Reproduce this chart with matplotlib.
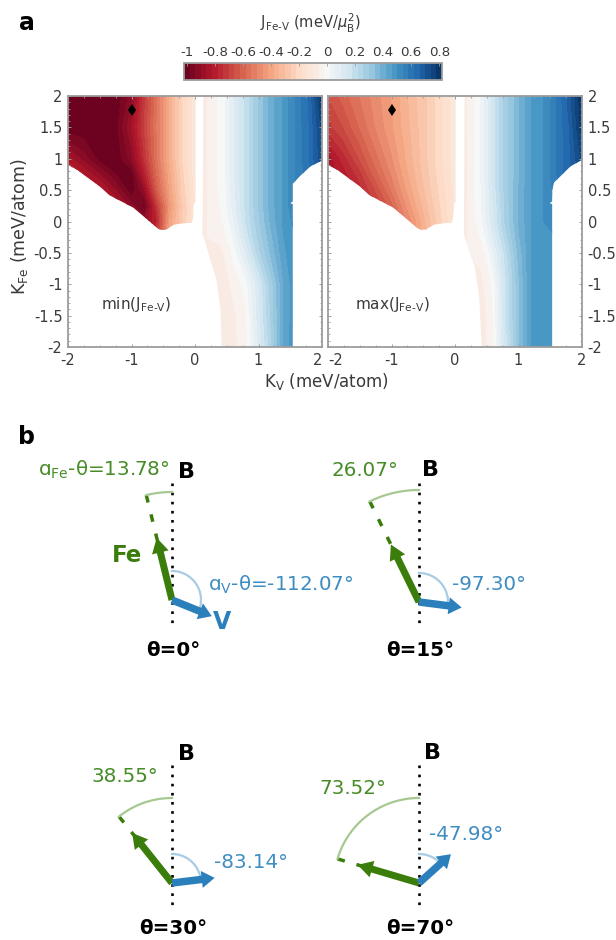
#!/usr/bin/env python3
import numpy as np
import matplotlib
matplotlib.use('Agg')
import matplotlib.pyplot as plt
from matplotlib.colors import TwoSlopeNorm
from matplotlib.path import Path
from matplotlib.patches import FancyArrow

plt.rcParams['font.family'] = 'DejaVu Sans'
plt.rcParams['axes.unicode_minus'] = False
plt.rcParams['mathtext.default'] = 'regular'

W, H = 616, 940

# values
kv = [-2, -1.75, -1.5, -1.25, -1, -.8, -.6, -.4, -.2, 0, .2, .4, .5, .6, .8, 1, 1.2, 1.4, 1.6, 1.8, 2]
kfe = [2, 1.5, 1, .75, .5, .25, 0, -.25, -.5, -1, -1.5, -2]

j_min = [
    [-1.02, -1.02, -1.02, -1.02, -.92, -.72, -.55, -.38, -.22, -.12, -.06, -.01, .03, .09, .19, .3, .4, .47, .55, .63, .8],
    [-1.02, -1.02, -1.02, -1.0, -.86, -.7, -.54, -.38, -.22, -.12, -.06, -.01, .03, .09, .19, .3, .4, .47, .55, .62, .75],
    [-.84, -.92, -1.0, -1.02, -.92, -.74, -.55, -.38, -.22, -.12, -.06, -.01, .03, .09, .19, .3, .4, .47, .55, .62, .73],
    [-.75, -.82, -.9, -.98, -1.02, -.8, -.58, -.4, -.24, -.12, -.06, -.01, .03, .09, .19, .3, .4, .47, .55, .6, .7],
    [-.7, -.75, -.8, -.9, -1.02, -.9, -.62, -.42, -.25, -.13, -.06, -.01, .02, .08, .19, .3, .4, .47, .55, .6, .7],
    [-.65, -.7, -.75, -.82, -.92, -1.0, -.72, -.45, -.27, -.14, -.06, -.02, .02, .07, .19, .3, .4, .47, .55, .6, .7],
    [-.6, -.65, -.7, -.75, -.82, -.9, -.78, -.42, -.26, -.15, -.06, -.03, 0, .05, .18, .29, .39, .47, .52, .55, .6],
    [-.6, -.65, -.7, -.75, -.8, -.85, -.7, -.4, -.25, -.15, -.06, -.05, -.02, .02, .15, .27, .37, .46, .5, .5, .5],
    [-.6, -.65, -.7, -.75, -.8, -.85, -.7, -.4, -.25, -.15, -.06, -.07, -.05, -.01, .1, .24, .35, .45, .5, .5, .5],
    [-.6, -.65, -.7, -.75, -.8, -.85, -.7, -.4, -.25, -.15, -.06, -.08, -.07, -.05, 0, .13, .28, .42, .5, .5, .5],
    [-.6, -.65, -.7, -.75, -.8, -.85, -.7, -.4, -.25, -.15, -.06, -.08, -.08, -.07, -.03, .12, .27, .42, .5, .5, .5],
    [-.6, -.65, -.7, -.75, -.8, -.85, -.7, -.4, -.25, -.15, -.06, -.08, -.08, -.07, -.04, .1, .25, .43, .5, .5, .5],
]
j_max = [
    [-.66, -.6, -.54, -.48, -.42, -.36, -.3, -.25, -.18, -.12, -.06, .02, .08, .16, .28, .37, .46, .5, .58, .68, .85],
    [-.72, -.66, -.58, -.5, -.43, -.37, -.31, -.25, -.18, -.12, -.06, .02, .08, .16, .28, .37, .46, .5, .58, .66, .8],
    [-.85, -.76, -.66, -.56, -.47, -.39, -.32, -.25, -.18, -.12, -.06, .02, .08, .16, .28, .37, .46, .5, .58, .65, .75],
    [-.85, -.8, -.72, -.6, -.5, -.41, -.33, -.26, -.19, -.12, -.06, .02, .08, .16, .28, .37, .46, .5, .58, .65, .72],
    [-.85, -.82, -.76, -.66, -.54, -.44, -.35, -.27, -.2, -.13, -.06, .01, .07, .15, .28, .38, .46, .5, .56, .62, .7],
    [-.85, -.82, -.78, -.7, -.6, -.48, -.38, -.29, -.21, -.13, -.06, .01, .07, .14, .27, .38, .46, .5, .55, .6, .7],
    [-.85, -.8, -.78, -.72, -.62, -.52, -.42, -.31, -.22, -.14, -.06, 0, .06, .13, .27, .38, .46, .5, .55, .6, .7],
    [-.85, -.8, -.78, -.72, -.62, -.52, -.42, -.31, -.22, -.14, -.06, -.02, .03, .1, .24, .37, .46, .5, .5, .5, .5],
    [-.85, -.8, -.78, -.72, -.62, -.52, -.42, -.31, -.22, -.14, -.06, -.05, -.01, .05, .2, .35, .46, .5, .5, .5, .5],
    [-.85, -.8, -.78, -.72, -.62, -.52, -.42, -.31, -.22, -.14, -.06, -.07, -.05, -.01, .17, .33, .46, .5, .5, .5, .5],
    [-.85, -.8, -.78, -.72, -.62, -.52, -.42, -.31, -.22, -.14, -.06, -.07, -.06, -.02, .17, .33, .46, .5, .5, .5, .5],
    [-.85, -.8, -.78, -.72, -.62, -.52, -.42, -.31, -.22, -.14, -.06, -.07, -.06, -.03, .16, .33, .46, .5, .5, .5, .5],
]

# edges of the coloured regions (K_V, K_Fe)
red_edge = [(-2, 2), (-2, .9), (-1.85, .82), (-1.5, .56), (-1.35, .42), (-.97, .22), (-.75, .03), (-.6, -.1),
            (-.55, -.13), (-.46, -.13), (-.33, -.05), (-.2, -.03), (-.05, -.02), (-.03, .05), (-.02, .29), (.01, .3), (.01, 2)]
blue_edge_min = [(.13, 2), (.12, -.2), (.18, -.4), (.34, -.94), (.4, -1.4), (.42, -2), (1.54, -2), (1.54, .28),
                 (1.5, .29), (1.54, .32), (1.54, .6), (1.65, .72), (1.82, .88), (2, .97), (2, 2)]
blue_edge_max = [(.15, 2), (.14, -.21), (.2, -.4), (.31, -.72), (.38, -1.2), (.42, -2), (1.53, -2), (1.53, .28),
                 (1.49, .29), (1.53, .32), (1.53, .5), (1.56, .62), (1.63, .69), (1.82, .88), (2, .98), (2, 2)]

marker_kv, marker_kfe = -1, 1.78
axis_ticks = [-2, -1.5, -1, -.5, 0, .5, 1, 1.5, 2]
axis_labels = ['-2', '-1.5', '-1', '-0.5', '0', '0.5', '1', '1.5', '2']
x_ticks = [-2, -1, 0, 1, 2]
x_labels = ['-2', '-1', '0', '1', '2']
cbar_ticks = [-1, -.8, -.6, -.4, -.2, 0, .2, .4, .6, .8]
cbar_labels = ['-1', '-0.8', '-0.6', '-0.4', '-0.2', '0', '0.2', '0.4', '0.6', '0.8']

# panel b
thetas = [0, 15, 30, 70]
fe_angles = [13.78, 26.07, 38.55, 73.52]
v_angles = [-112.07, -97.30, -83.14, -47.98]
fe_arc_radius = [108, 112, 85, 85]
origin_x = [172, 419, 172, 419]
origin_y = [600, 602, 883, 883]
line_top = [483, 483, 765, 765]
line_bottom = [627, 627, 910, 910]
theta_label_y = [650, 650, 929, 929]

GREY = '#9c9c9c'
TXT = '#3a3a3a'
GREEN = '#3a7d0a'
BLUE = '#2b80bb'
GREEN_T = '#468c28'
BLUE_T = '#3f8cc1'


def px_axes(x0, y0, x1, y1):
    return fig.add_axes([x0 / W, 1 - y1 / H, (x1 - x0) / W, (y1 - y0) / H])


def region_path(edges):
    verts, codes = [], []
    for e in edges:
        verts += list(e) + [e[0]]
        codes += [Path.MOVETO] + [Path.LINETO] * (len(e) - 1) + [Path.CLOSEPOLY]
    return Path(verts, codes)


fig = plt.figure(figsize=(W / 100, H / 100), dpi=100)
norm = TwoSlopeNorm(vmin=-1.02, vcenter=0, vmax=.82)
levels = np.arange(-1.02, .821, .04)

ax1 = px_axes(68, 96, 322, 347)
ax2 = px_axes(328, 96, 582, 347)
maps = [(ax1, j_min, blue_edge_min), (ax2, j_max, blue_edge_max)]
for ax, table, blue_edge in maps:
    cs = ax.contourf(kv, kfe, np.clip(table, -1.015, .815), levels=levels, cmap='RdBu', norm=norm, antialiased=False)
    cs.set_clip_path(region_path([red_edge, blue_edge]), transform=ax.transData)
    ax.plot(marker_kv, marker_kfe, marker='d', color='k', ms=6.5, mew=0)
    ax.set_xlim(-2, 2)
    ax.set_ylim(-2, 2)
    ax.set_xticks(x_ticks)
    ax.set_xticklabels(x_labels)
    ax.set_yticks(axis_ticks)
    ax.set_yticklabels(axis_labels)
    ax.set_xticks(np.arange(-2, 2.01, .25), minor=True)
    ax.set_yticks(np.arange(-2, 2.01, .1), minor=True)
    ax.tick_params(which='major', direction='in', length=2.5, width=.7, color=GREY, top=True, right=True,
                   labelcolor=TXT, labelsize=10.5, pad=4)
    ax.tick_params(which='minor', direction='in', length=1.2, width=.6, color=GREY, top=True, right=True)
    for s in ax.spines.values():
        s.set_color(GREY)
        s.set_linewidth(1.3)
ax2.tick_params(which='major', labelleft=False, labelright=True)
# the two inner labels are pulled apart so they do not run together
ax1.get_xticklabels()[-1].set_ha('right')
ax2.get_xticklabels()[0].set_ha('left')

cax = px_axes(184, 63, 442, 80)
cb = fig.colorbar(cs, cax=cax, orientation='horizontal', ticks=cbar_ticks)
cax.xaxis.set_ticks_position('top')
cax.set_xticklabels(cbar_labels)
cax.tick_params(direction='in', length=2, width=.6, color=GREY, labelcolor=TXT, labelsize=9.6, pad=3)
cax.minorticks_off()
cb.outline.set_edgecolor(GREY)
cb.outline.set_linewidth(1.3)

# everything else is placed in pixels on one overlay
ov = fig.add_axes([0, 0, 1, 1])
ov.set_xlim(0, W)
ov.set_ylim(H, 0)
ov.axis('off')
ov.patch.set_alpha(0)


def label(x, y, s, size=14.3, color='k', ha='center', weight='normal', rotation=0):
    ov.text(x, y, s, fontsize=size, color=color, ha=ha, va='center', fontweight=weight, rotation=rotation)


label(27, 23, 'a', size=17, weight='bold')
label(27, 437, 'b', size=17, weight='bold')
label(310, 23, r'J$_{Fe\text{-}V}$ (meV/$\mathit{\mu}_B^2$)', size=10.5, color=TXT)
label(326, 381, r'K$_V$ (meV/atom)', size=12, color=TXT)
label(20, 227, r'K$_{Fe}$ (meV/atom)', size=12.5, color=TXT, rotation=90)
label(101, 304, r'min(J$_{Fe\text{-}V}$)', size=11, color=TXT, ha='left')
label(355, 304, r'max(J$_{Fe\text{-}V}$)', size=11, color=TXT, ha='left')

for i in range(4):
    x0, y0 = origin_x[i], origin_y[i]
    ov.plot([x0, x0], [line_top[i], line_bottom[i]], color='k', lw=1.9, ls=(0, (1, 2.46)), zorder=1)

    a = np.radians(fe_angles[i])
    r = fe_arc_radius[i]
    ov.plot([x0 - r * np.sin(a), x0 - 60 * np.sin(a)], [y0 - r * np.cos(a), y0 - 60 * np.cos(a)],
            color=GREEN, lw=2.5, ls=(0, (2.2, 3.5)), zorder=2)
    t = np.linspace(0, a, 40)
    ov.plot(x0 - r * np.sin(t), y0 - r * np.cos(t), color='#a5c991', lw=1.6, zorder=2)
    ov.add_patch(FancyArrow(x0, y0, -64 * np.sin(a), -64 * np.cos(a), width=7, head_width=17, head_length=15,
                            length_includes_head=True, color=GREEN, lw=0, zorder=3))

    b = np.radians(v_angles[i])
    t = np.linspace(0, b, 40)
    ov.plot(x0 - 29 * np.sin(t), y0 - 29 * np.cos(t), color='#a8cce3', lw=1.6, zorder=2)
    ov.add_patch(FancyArrow(x0, y0, -43 * np.sin(b), -43 * np.cos(b), width=7.5, head_width=17, head_length=13,
                            length_includes_head=True, color=BLUE, lw=0, zorder=4))

    label(x0 + 1, theta_label_y[i], '\u03b8=%d\u00b0' % thetas[i], weight='bold')

label(186, 472, 'B', size=16, weight='bold')
label(430, 470, 'B', size=16, weight='bold')
label(186, 754, 'B', size=16, weight='bold')
label(432, 753, 'B', size=16, weight='bold')
label(127, 556, 'Fe', size=16.5, color=GREEN, weight='bold')
label(222, 622, 'V', size=17, color=BLUE, weight='bold')

label(38, 470, '\u0251$_{Fe}$-\u03b8=%.2f\u00b0' % fe_angles[0], color=GREEN_T, ha='left')
label(365, 470, '%.2f\u00b0' % fe_angles[1], color=GREEN_T)
label(125, 776, '%.2f\u00b0' % fe_angles[2], color=GREEN_T)
label(353, 789, '%.2f\u00b0' % fe_angles[3], color=GREEN_T)
label(208, 585, '\u0251$_V$-\u03b8=%.2f\u00b0' % v_angles[0], color=BLUE_T, ha='left')
label(452, 584, '%.2f\u00b0' % v_angles[1], color=BLUE_T, ha='left')
label(214, 863, '%.2f\u00b0' % v_angles[2], color=BLUE_T, ha='left')
label(429, 834, '%.2f\u00b0' % v_angles[3], color=BLUE_T, ha='left')

fig.savefig('out.png', dpi=100)
